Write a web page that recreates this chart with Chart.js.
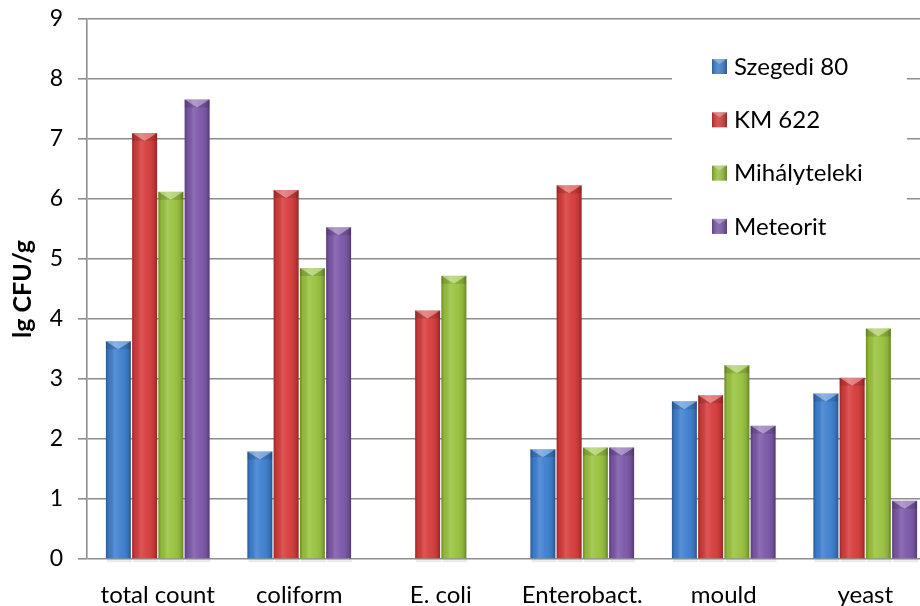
<!DOCTYPE html>
<html>
<head>
<meta charset="utf-8">
<script src="https://cdn.jsdelivr.net/npm/chart.js@4/dist/chart.umd.min.js"></script>
<style>
  html, body { margin: 0; padding: 0; background: #fff; overflow: hidden; }
  #wrap { width: 940px; height: 606px; }
</style>
</head>
<body>
<div id="wrap"><canvas id="c" width="940" height="606"></canvas></div>
<script>
// Microbial counts (lg CFU/g) for four cultivars
const categories = ['total count', 'coliform', 'E. coli', 'Enterobact.', 'mould', 'yeast'];
const seriesNames = ['Szegedi 80', 'KM 622', 'Mihályteleki', 'Meteorit'];
const szegedi80   = [3.63, 1.79, null, 1.83, 2.63, 2.76];
const km622       = [7.10, 6.15, 4.14, 6.23, 2.73, 3.02];
const mihalyteleki= [6.12, 4.85, 4.72, 1.86, 3.23, 3.84];
const meteorit    = [7.66, 5.53, null, 1.86, 2.22, 0.97];
const yTicks = [0, 1, 2, 3, 4, 5, 6, 7, 8, 9];

const seriesValues = [szegedi80, km622, mihalyteleki, meteorit];
const colors = ['#3d7fcf', '#d63b3b', '#98c23d', '#7b57a8'];
const FONT = 'Lato, "Open Sans", sans-serif';

// Bevel-style shading over each bar, using the bar geometry from Chart.js
const bevelPlugin = {
  id: 'bevel',
  afterDatasetsDraw(chart) {
    const ctx = chart.ctx;
    ctx.save();
    chart.data.datasets.forEach((ds, di) => {
      const meta = chart.getDatasetMeta(di);
      meta.data.forEach((el, i) => {
        if (ds.data[i] == null) return;
        const p = el.getProps(['x', 'y', 'base', 'width'], true);
        const l = p.x - p.width / 2, r = p.x + p.width / 2;
        const top = p.y, bot = p.base, w = p.width;
        // horizontal shading
        const g = ctx.createLinearGradient(l, 0, r, 0);
        g.addColorStop(0, 'rgba(0,0,0,0.28)');
        g.addColorStop(0.12, 'rgba(0,0,0,0.05)');
        g.addColorStop(0.35, 'rgba(255,255,255,0.14)');
        g.addColorStop(0.6, 'rgba(255,255,255,0.04)');
        g.addColorStop(0.88, 'rgba(0,0,0,0.10)');
        g.addColorStop(1, 'rgba(0,0,0,0.32)');
        ctx.fillStyle = g;
        ctx.fillRect(l, top, w, bot - top);
        // top bevel
        const bh = Math.min(8, (bot - top) / 2);
        ctx.fillStyle = 'rgba(255,255,255,0.32)';
        ctx.beginPath();
        ctx.moveTo(l, top); ctx.lineTo(r, top); ctx.lineTo(p.x, top + bh); ctx.closePath();
        ctx.fill();
        ctx.fillStyle = 'rgba(0,0,0,0.12)';
        ctx.beginPath();
        ctx.moveTo(l, top); ctx.lineTo(p.x, top + bh); ctx.lineTo(l, top + bh); ctx.closePath();
        ctx.fill();
        ctx.beginPath();
        ctx.moveTo(r, top); ctx.lineTo(p.x, top + bh); ctx.lineTo(r, top + bh); ctx.closePath();
        ctx.fill();
        // soft shadow under the bar
        ctx.fillStyle = 'rgba(0,0,0,0.08)';
        ctx.fillRect(l + 1, bot + 1, w, 3);
      });
    });
    ctx.restore();
  }
};

// Legend box drawn inside the plot area
const boxLegend = {
  id: 'boxLegend',
  afterDraw(chart) {
    const ctx = chart.ctx;
    ctx.save();
    ctx.fillStyle = '#fff';
    ctx.fillRect(672, 32, 235, 215);
    ctx.font = '24px ' + FONT;
    ctx.textBaseline = 'middle';
    ctx.textAlign = 'left';
    chart.data.datasets.forEach((ds, i) => {
      const cy = 66 + i * 53.3;
      const bx = 712, by = cy - 7, s = 15;
      ctx.fillStyle = ds.backgroundColor;
      ctx.fillRect(bx, by, s, s);
      const g = ctx.createLinearGradient(bx, 0, bx + s, 0);
      g.addColorStop(0, 'rgba(0,0,0,0.25)');
      g.addColorStop(0.4, 'rgba(255,255,255,0.12)');
      g.addColorStop(1, 'rgba(0,0,0,0.3)');
      ctx.fillStyle = g;
      ctx.fillRect(bx, by, s, s);
      ctx.fillStyle = 'rgba(255,255,255,0.3)';
      ctx.beginPath();
      ctx.moveTo(bx, by); ctx.lineTo(bx + s, by); ctx.lineTo(bx + s / 2, by + 5); ctx.closePath();
      ctx.fill();
      ctx.fillStyle = '#000';
      ctx.fillText(ds.label, 734, cy + 1);
    });
    ctx.restore();
  }
};

new Chart(document.getElementById('c'), {
  type: 'bar',
  data: {
    labels: categories,
    datasets: seriesNames.map((name, i) => ({
      label: name,
      data: seriesValues[i],
      backgroundColor: colors[i],
      borderWidth: 0,
      categoryPercentage: 0.742,
      barPercentage: 0.95
    }))
  },
  options: {
    responsive: false,
    animation: false,
    layout: { padding: { top: 19, right: 4, left: 0, bottom: 0 } },
    plugins: {
      legend: { display: false },
      tooltip: { enabled: false }
    },
    scales: {
      x: {
        grid: { display: false },
        border: { display: false },
        ticks: {
          color: '#000',
          font: { family: FONT, size: 24 },
          padding: 14,
          maxRotation: 0,
          autoSkip: false
        },
        afterFit(scale) { scale.height = 47; scale.paddingLeft = 0; scale.paddingRight = 0; }
      },
      y: {
        min: 0,
        max: 9,
        afterBuildTicks(scale) { scale.ticks = yTicks.map(v => ({ value: v })); },
        grid: { color: '#8e8e8e', lineWidth: 1.6, tickLength: 9, drawTicks: true },
        border: { display: true, color: '#8e8e8e', width: 1.6 },
        ticks: {
          color: '#000',
          font: { family: FONT, size: 23 },
          padding: 15
        },
        title: {
          display: true,
          text: 'lg CFU/g',
          color: '#000',
          font: { family: FONT, size: 25, weight: 'bold' },
          padding: { top: 8, bottom: 0 }
        },
        afterFit(scale) { scale.width = 87; scale.paddingTop = 0; scale.paddingBottom = 0; }
      }
    }
  },
  plugins: [bevelPlugin, boxLegend]
});
</script>
</body>
</html>
